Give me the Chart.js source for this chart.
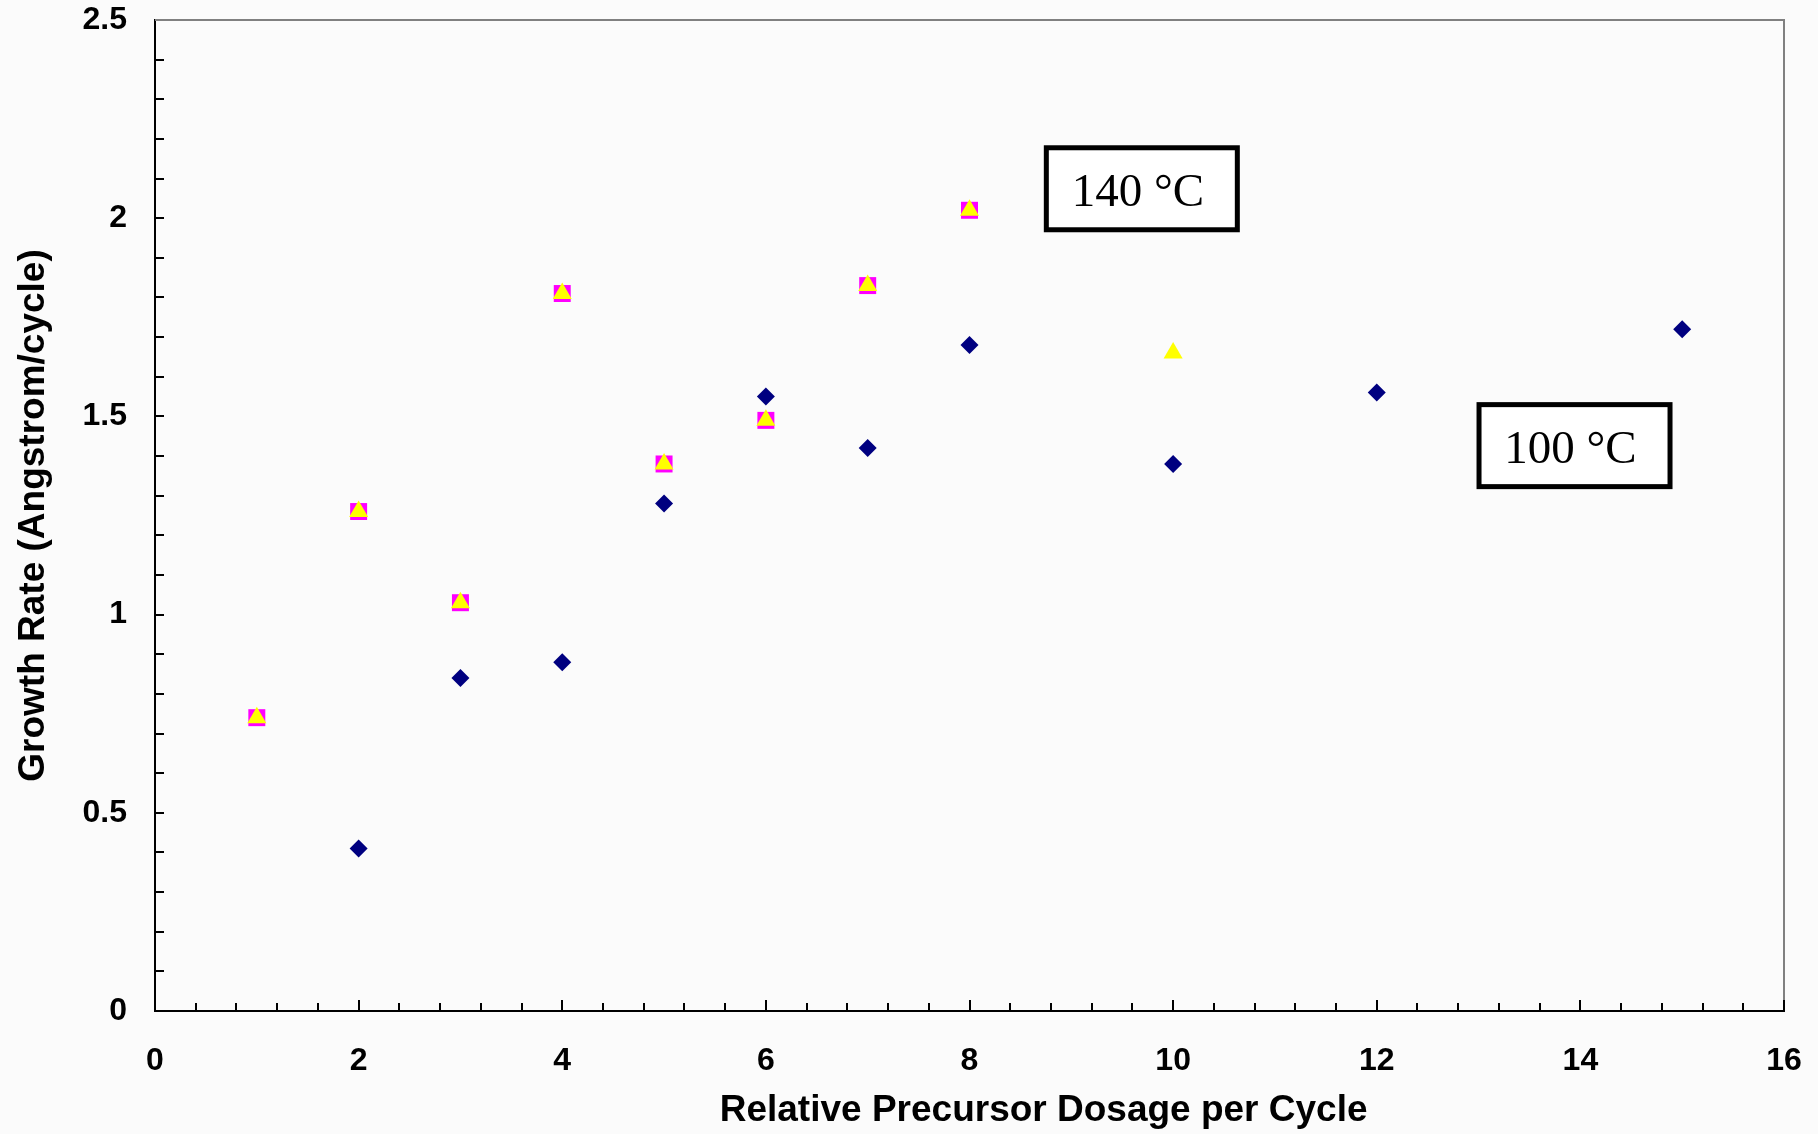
<!DOCTYPE html>
<html>
<head>
<meta charset="utf-8">
<title>Growth Rate vs Relative Precursor Dosage</title>
<script src="https://cdn.jsdelivr.net/npm/chart.js@4.4.1/dist/chart.umd.min.js"></script>
<style>
    html, body { margin: 0; padding: 0; background: #fbfbfb; }
    #wrap { width: 1818px; height: 1134px; }
</style>
</head>
<body>
<div id="wrap"><canvas id="myChart" width="1818" height="1134"></canvas></div>
<script>
// 100 °C run (navy diamonds)
const dose100 = [2, 3, 4, 5, 6, 7, 8, 10, 12, 15];
const rate100 = [0.41, 0.84, 0.88, 1.28, 1.55, 1.42, 1.68, 1.38, 1.56, 1.72];

// 140 °C run, magenta squares
const dose140sq = [1, 2, 3, 4, 5, 6, 7, 8];
const rate140sq = [0.74, 1.26, 1.03, 1.81, 1.38, 1.49, 1.83, 2.02];

// 140 °C run, yellow triangles
const dose140tri = [1, 2, 3, 4, 5, 6, 7, 8, 10];
const rate140tri = [0.74, 1.26, 1.03, 1.81, 1.38, 1.49, 1.83, 2.02, 1.66];

// axis text
const xTitle = "Relative Precursor Dosage per Cycle";
const yTitle = "Growth Rate (Angstrom/cycle)";
const noteTexts = ["140 °C", "100 °C"];

// where the two text boxes sit (top-left corner, in data units)
const notePlacement = [
    {x: 8.73, y: 2.184},
    {x: 12.98, y: 1.536},
];

const sansBold = (size) => ({family: "'Liberation Sans', Arial, sans-serif", size: size, weight: "bold"});

function toPoints(xs, ys) {
    return xs.map((x, i) => ({x: x, y: ys[i]}));
}

function isMultiple(v, step) {
    return Math.abs(v / step - Math.round(v / step)) < 1e-6;
}

// page background
const backgroundPlugin = {
    id: "background",
    beforeDraw(chart) {
        const ctx = chart.ctx;
        ctx.save();
        ctx.fillStyle = "#fbfbfb";
        ctx.fillRect(0, 0, chart.width, chart.height);
        ctx.restore();
    },
};

// grey frame on top/right and inward tick marks like the original
const frameTicksPlugin = {
    id: "frameTicks",
    beforeDatasetsDraw(chart) {
        const ctx = chart.ctx;
        const {top, bottom, left, right} = chart.chartArea;
        const xs = chart.scales.x;
        const ys = chart.scales.y;
        ctx.save();
        ctx.strokeStyle = "#808080";
        ctx.lineWidth = 2;
        ctx.beginPath();
        ctx.moveTo(left, top);
        ctx.lineTo(right, top);
        ctx.lineTo(right, bottom);
        ctx.stroke();

        ctx.strokeStyle = "#000";
        ctx.lineWidth = 2;
        xs.ticks.forEach((t) => {
            if (t.value <= xs.min) return;
            const px = Math.round(xs.getPixelForValue(t.value));
            const len = isMultiple(t.value, 2) ? 11 : 8;
            ctx.beginPath();
            ctx.moveTo(px, bottom);
            ctx.lineTo(px, bottom - len);
            ctx.stroke();
        });
        ys.ticks.forEach((t) => {
            if (t.value <= ys.min || t.value >= ys.max) return;
            const py = Math.round(ys.getPixelForValue(t.value));
            ctx.beginPath();
            ctx.moveTo(left, py);
            ctx.lineTo(left + 9, py);
            ctx.stroke();
        });
        ctx.restore();
    },
};

// temperature labels and the x axis title
const notesPlugin = {
    id: "notes",
    afterDatasetsDraw(chart) {
        const ctx = chart.ctx;
        const xs = chart.scales.x;
        const ys = chart.scales.y;
        ctx.save();
        notePlacement.forEach((p, i) => {
            const bx = xs.getPixelForValue(p.x);
            const by = ys.getPixelForValue(p.y);
            const w = 196, h = 87, lw = 5;
            ctx.fillStyle = "#fff";
            ctx.fillRect(bx, by, w, h);
            ctx.strokeStyle = "#000";
            ctx.lineWidth = lw;
            ctx.strokeRect(bx + lw / 2, by + lw / 2, w - lw, h - lw);
            ctx.fillStyle = "#000";
            ctx.font = "47px 'Liberation Serif', 'Times New Roman', serif";
            ctx.textAlign = "center";
            ctx.textBaseline = "alphabetic";
            ctx.fillText(noteTexts[i], bx + w / 2 - 4, by + 61);
        });

        const {left, right} = chart.chartArea;
        ctx.font = "bold 37px 'Liberation Sans', Arial, sans-serif";
        ctx.fillStyle = "#000";
        ctx.textAlign = "center";
        ctx.textBaseline = "middle";
        ctx.fillText(xTitle, left + (right - left) * 0.5455, 1111);
        ctx.restore();
    },
};

const ctx = document.getElementById("myChart").getContext("2d");

const chart = new Chart(ctx, {
    type: "scatter",
    data: {
        datasets: [
            {
                label: "140 °C (triangles)",
                data: toPoints(dose140tri, rate140tri),
                pointStyle: "triangle",
                pointRadius: 11,
                pointHoverRadius: 11,
                backgroundColor: "#ffff00",
                borderColor: "#ffff00",
                borderWidth: 0,
            },
            {
                label: "140 °C (squares)",
                data: toPoints(dose140sq, rate140sq),
                pointStyle: "rect",
                pointRadius: 12,
                pointHoverRadius: 12,
                backgroundColor: "#ff00ff",
                borderColor: "#ff00ff",
                borderWidth: 0,
            },
            {
                label: "100 °C",
                data: toPoints(dose100, rate100),
                pointStyle: "rectRot",
                pointRadius: 9,
                pointHoverRadius: 9,
                backgroundColor: "#000080",
                borderColor: "#000080",
                borderWidth: 0,
            },
        ],
    },
    options: {
        responsive: false,
        animation: false,
        devicePixelRatio: 1,
        layout: {padding: {top: 20, right: 34, left: 0, bottom: 0}},
        plugins: {
            legend: {display: false},
            tooltip: {enabled: false},
        },
        scales: {
            x: {
                type: "linear",
                min: 0,
                max: 16,
                grid: {drawOnChartArea: false, drawTicks: false},
                border: {display: true, color: "#000", width: 2},
                ticks: {
                    stepSize: 0.4,
                    autoSkip: false,
                    maxRotation: 0,
                    padding: 31,
                    color: "#000",
                    font: sansBold(32),
                    callback: (v) => (isMultiple(v, 2) ? String(Math.round(v)) : ""),
                },
                afterFit: (scale) => {
                    scale.height = 123;
                    scale.paddingLeft = 0;
                    scale.paddingRight = 0;
                },
            },
            y: {
                type: "linear",
                min: 0,
                max: 2.5,
                grid: {drawOnChartArea: false, drawTicks: false},
                border: {display: true, color: "#000", width: 2},
                ticks: {
                    stepSize: 0.1,
                    autoSkip: false,
                    padding: 28,
                    color: "#000",
                    font: sansBold(32),
                    callback: (v) => (isMultiple(v, 0.5) ? String(Math.round(v * 10) / 10) : ""),
                },
                title: {
                    display: true,
                    text: yTitle,
                    color: "#000",
                    font: sansBold(37),
                    padding: {top: 12, bottom: 0},
                },
                afterFit: (scale) => {
                    scale.width = 155;
                    scale.paddingTop = 0;
                    scale.paddingBottom = 0;
                },
            },
        },
    },
    plugins: [backgroundPlugin, frameTicksPlugin, notesPlugin],
});
</script>
</body>
</html>
